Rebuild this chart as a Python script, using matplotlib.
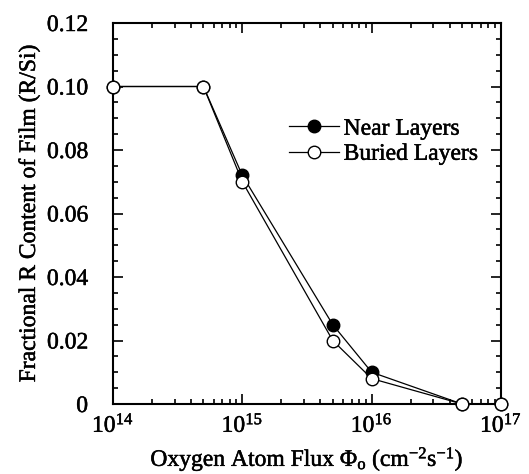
import math
import matplotlib
matplotlib.use("Agg")
import matplotlib.pyplot as plt
import matplotlib.patheffects as pe
from matplotlib.ticker import FixedLocator, FuncFormatter, LogLocator, MultipleLocator

plt.rcParams['font.family'] = ['Liberation Serif', 'DejaVu Serif']
plt.rcParams['mathtext.fontset'] = 'custom'
plt.rcParams['mathtext.rm'] = 'Liberation Serif'
plt.rcParams['mathtext.it'] = 'Liberation Serif:italic'
plt.rcParams['mathtext.bf'] = 'Liberation Serif:bold'

# Oxygen atom flux (cm^-2 s^-1)
flux_near = [1e14, 5e14, 1e15, 5e15, 1e16, 5e16, 1e17]
near_layers = [0.100, 0.100, 0.072, 0.025, 0.010, 0.000, 0.000]

flux_buried = [1e14, 5e14, 1e15, 5e15, 1e16, 5e16, 1e17]
buried_layers = [0.100, 0.100, 0.070, 0.020, 0.008, 0.000, 0.000]

y_ticks = [0, 0.02, 0.04, 0.06, 0.08, 0.10, 0.12]
y_tick_labels = ["0", "0.02", "0.04", "0.06", "0.08", "0.10", "0.12"]

FS = 17
thick = [pe.withStroke(linewidth=0.35, foreground='black')]

fig = plt.figure(figsize=(5.29, 4.74), dpi=100)
ax = fig.add_axes([113 / 529, 1 - 404 / 474, 388 / 529, 381 / 474])

ax.plot(flux_near, near_layers, '-o', color='black', lw=0.9,
        markersize=9, markerfacecolor='black', markeredgecolor='black',
        label='Near Layers', clip_on=False, zorder=3)
ax.plot(flux_buried, buried_layers, '-o', color='black', lw=0.9,
        markersize=9, markerfacecolor='white', markeredgecolor='black',
        markeredgewidth=1.0, label='Buried Layers', clip_on=False, zorder=4)

ax.set_xscale('log')
ax.set_xlim(1e14, 1e17)
ax.set_ylim(0, 0.12)

ax.yaxis.set_major_locator(FixedLocator(y_ticks))
ax.set_yticklabels(y_tick_labels)
ax.yaxis.set_minor_locator(MultipleLocator(0.005))
ax.xaxis.set_major_locator(LogLocator(base=10, numticks=10))
ax.xaxis.set_minor_locator(LogLocator(base=10, subs=range(2, 10), numticks=20))
ax.xaxis.set_major_formatter(FuncFormatter(lambda v, p: r'$10^{%d}$' % round(math.log10(v))))

ax.tick_params(which='both', direction='in', top=True, right=True, width=1.2,
               labelsize=FS, colors='black')
ax.tick_params(which='major', length=7)
ax.tick_params(which='minor', length=3.5)
ax.tick_params(axis='x', which='major', pad=7)
ax.tick_params(axis='y', which='major', pad=18)

for lbl in ax.get_xticklabels() + ax.get_yticklabels():
    lbl.set_path_effects(thick)

for s in ax.spines.values():
    s.set_linewidth(1.5)

ax.set_ylabel('Fractional R Content of Film (R/Si)', fontsize=FS, labelpad=5,
              path_effects=thick)
ax.set_xlabel(r'Oxygen Atom Flux $\Phi_{\mathrm{o}}$ (cm$^{-2}$s$^{-1}$)',
              fontsize=FS, labelpad=6, path_effects=thick)

leg = ax.legend(loc='upper left', bbox_to_anchor=(0.43, 0.775), frameon=False,
                fontsize=FS, handlelength=2.1, handletextpad=0.2,
                labelspacing=0.15, borderaxespad=0)
for t in leg.get_texts():
    t.set_path_effects(thick)

fig.savefig('out.png', dpi=100)
